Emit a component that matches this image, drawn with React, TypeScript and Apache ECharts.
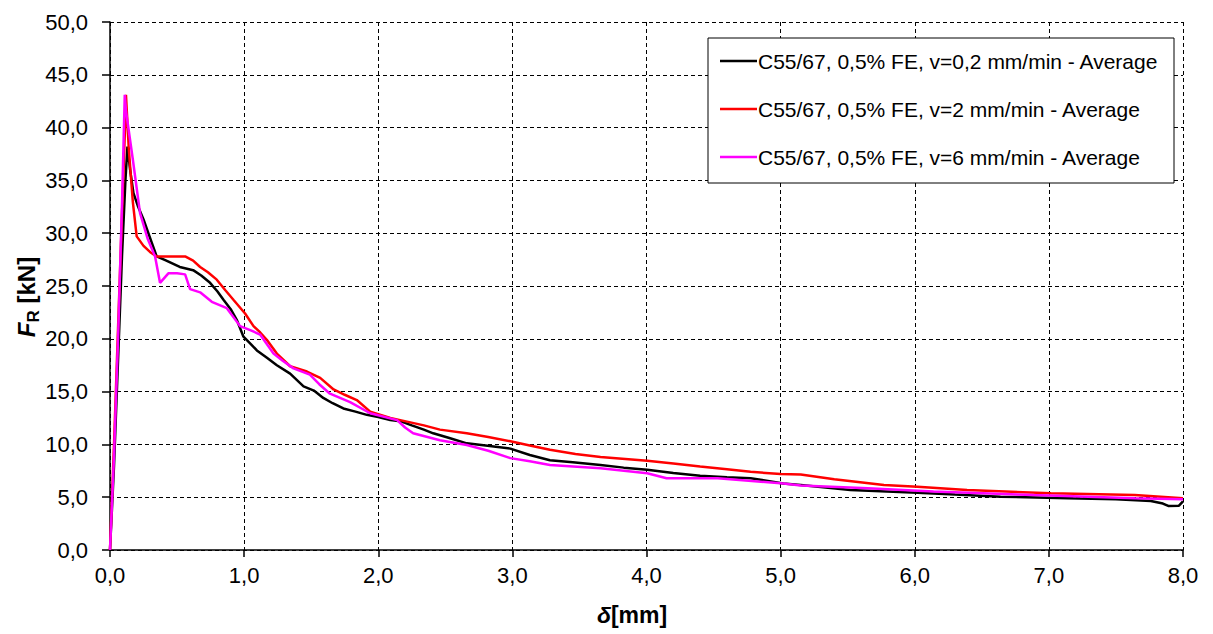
import React, { useEffect, useRef } from "react";
import * as echarts from "echarts";

const seriesNames = [
  "C55/67, 0,5% FE, v=0,2 mm/min - Average",
  "C55/67, 0,5% FE, v=2 mm/min - Average",
  "C55/67, 0,5% FE, v=6 mm/min - Average",
];

const blackData: number[][] = [
  [0, 0], [0.03, 8], [0.06, 18], [0.09, 28], [0.115, 35], [0.13, 38.2], [0.15, 36.0], [0.175, 33.8],
  [0.21, 32.5], [0.25, 31.3], [0.3, 29.5], [0.348, 27.8], [0.42, 27.4], [0.52, 26.8], [0.62, 26.5],
  [0.68, 26.0], [0.746, 25.3], [0.8, 24.5], [0.846, 23.7], [0.9, 22.8], [0.945, 21.8], [0.995, 20.2],
  [1.05, 19.5], [1.095, 18.9], [1.17, 18.2], [1.244, 17.5], [1.343, 16.7], [1.443, 15.5], [1.52, 15.1],
  [1.59, 14.4], [1.66, 13.9], [1.74, 13.4], [1.83, 13.1], [1.915, 12.8], [2.0, 12.6], [2.09, 12.3],
  [2.164, 12.2], [2.25, 11.8], [2.34, 11.4], [2.41, 11.05], [2.53, 10.6], [2.66, 10.1], [2.8, 9.9],
  [2.985, 9.6], [3.13, 9.0], [3.28, 8.5], [3.45, 8.3], [3.657, 8.05], [3.83, 7.8], [4.005, 7.6],
  [4.2, 7.3], [4.4, 7.04], [4.6, 6.9], [4.776, 6.8], [5.02, 6.3], [5.15, 6.16], [5.52, 5.68],
  [6.02, 5.43], [6.3, 5.25], [6.64, 5.05], [7.14, 4.9], [7.5, 4.8], [7.76, 4.64], [7.85, 4.4],
  [7.89, 4.17], [7.97, 4.2], [8.0, 4.6],
];

const redData: number[][] = [
  [0, 0], [0.03, 10], [0.06, 21], [0.09, 32], [0.112, 40], [0.119, 43.1], [0.14, 38], [0.17, 33],
  [0.199, 29.7], [0.25, 28.8], [0.3, 28.2], [0.348, 27.8], [0.45, 27.8], [0.56, 27.8], [0.62, 27.4],
  [0.672, 26.8], [0.73, 26.3], [0.796, 25.6], [0.86, 24.6], [0.92, 23.7], [1.007, 22.4], [1.07, 21.2],
  [1.12, 20.6], [1.169, 19.9], [1.244, 18.6], [1.343, 17.4], [1.468, 16.9], [1.567, 16.3], [1.667, 15.2],
  [1.75, 14.7], [1.84, 14.2], [1.94, 13.1], [2.09, 12.5], [2.164, 12.3], [2.34, 11.8], [2.46, 11.4],
  [2.66, 11.05], [2.82, 10.7], [2.985, 10.3], [3.13, 9.9], [3.28, 9.5], [3.47, 9.1], [3.657, 8.8],
  [4.005, 8.46], [4.2, 8.2], [4.4, 7.9], [4.6, 7.65], [4.776, 7.4], [5.0, 7.2], [5.15, 7.15],
  [5.4, 6.7], [5.77, 6.16], [6.02, 6.0], [6.39, 5.68], [7.015, 5.37], [7.64, 5.2], [8.0, 4.9],
];

const magentaData: number[][] = [
  [0, 0], [0.03, 9], [0.06, 20], [0.09, 33], [0.11, 43.1], [0.12, 41.5], [0.17, 37], [0.224, 31.9],
  [0.28, 29.5], [0.336, 27.8], [0.373, 25.3], [0.435, 26.2], [0.5, 26.2], [0.56, 26.1], [0.597, 24.7],
  [0.672, 24.4], [0.759, 23.5], [0.871, 22.9], [0.97, 21.2], [1.05, 20.8], [1.119, 20.4], [1.219, 18.6],
  [1.29, 17.9], [1.368, 17.2], [1.49, 16.6], [1.56, 15.7], [1.64, 14.8], [1.79, 14.0], [1.94, 12.95],
  [2.14, 12.3], [2.2, 11.6], [2.26, 11.05], [2.46, 10.4], [2.66, 9.95], [2.82, 9.4], [2.985, 8.7],
  [3.13, 8.4], [3.28, 8.05], [3.657, 7.74], [4.005, 7.27], [4.15, 6.8], [4.53, 6.8], [5.02, 6.3],
  [5.15, 6.1], [5.65, 5.84], [6.14, 5.53], [6.89, 5.2], [7.64, 4.9], [8.0, 4.8],
];

const seriesData = [blackData, redData, magentaData];
const seriesColors = ["#000000", "#ff0000", "#ff00ff"];

const FONT = "'Liberation Sans', Arial, sans-serif";
const fmt = (v: number) => v.toFixed(1).replace(".", ",");

export default function App() {
  const ref = useRef<HTMLDivElement>(null);
  useEffect(() => {
    if (!ref.current) return;
    const chart = echarts.init(ref.current, undefined, { renderer: "svg" });
    const gridStyle = { show: true, lineStyle: { color: "#000", type: [4, 3] as any, width: 1 } };
    chart.setOption({
      animation: false,
      backgroundColor: "#fff",
      textStyle: { fontFamily: FONT },
      grid: { left: 110, right: 30, top: 22, bottom: 84, containLabel: false },
      xAxis: {
        type: "value",
        min: 0,
        max: 8,
        interval: 1,
        axisLine: { show: true, onZero: false, lineStyle: { color: "#000", width: 1.5 } },
        axisTick: { show: true, length: 7, lineStyle: { color: "#000", width: 1.5 } },
        axisLabel: { color: "#000", fontSize: 22, fontFamily: FONT, margin: 14, formatter: fmt },
        splitLine: gridStyle,
      },
      yAxis: {
        type: "value",
        min: 0,
        max: 50,
        interval: 5,
        axisLine: { show: true, onZero: false, lineStyle: { color: "#000", width: 1.5 } },
        axisTick: { show: true, length: 8, lineStyle: { color: "#000", width: 1.5 } },
        axisLabel: { color: "#000", fontSize: 22, fontFamily: FONT, margin: 22, formatter: fmt },
        splitLine: gridStyle,
      },
      legend: {
        orient: "vertical",
        left: 720,
        top: 50,
        padding: 0,
        itemGap: 26,
        icon: "rect",
        itemWidth: 37,
        itemHeight: 2.5,
        textStyle: { color: "#000", fontSize: 21, fontFamily: FONT, lineHeight: 22, padding: [0, 0, 0, -4] },
        data: seriesNames,
        z: 10,
      },
      graphic: [
        {
          type: "rect",
          z: 5,
          shape: { x: 708, y: 38, width: 466, height: 145 },
          style: { fill: "#fff", stroke: "#000", lineWidth: 1 },
        },
        {
          type: "text",
          x: 632,
          y: 615,
          style: {
            text: "{d|δ}{u|[mm]}",
            align: "center",
            verticalAlign: "middle",
            rich: {
              d: { fontSize: 23, fontWeight: "bold", fontStyle: "italic", fontFamily: FONT, fill: "#000" },
              u: { fontSize: 23, fontWeight: "bold", fontFamily: FONT, fill: "#000" },
            },
          },
        },
        {
          type: "text",
          x: 28,
          y: 297,
          rotation: Math.PI / 2,
          style: {
            text: "{f|F}{r|R}{u| [kN]}",
            align: "center",
            verticalAlign: "middle",
            rich: {
              f: { fontSize: 24, fontWeight: "bold", fontStyle: "italic", fontFamily: FONT, fill: "#000", verticalAlign: "top" },
              r: { fontSize: 17, fontWeight: "bold", fontFamily: FONT, fill: "#000", padding: [11, 0, 0, 0] },
              u: { fontSize: 24, fontWeight: "bold", fontFamily: FONT, fill: "#000", verticalAlign: "top" },
            },
          },
        },
      ],
      series: seriesData.map((d, i) => ({
        name: seriesNames[i],
        type: "line",
        data: d,
        showSymbol: false,
        symbol: "none",
        lineStyle: { color: seriesColors[i], width: 2.5 },
        itemStyle: { color: seriesColors[i] },
      })),
    });
    return () => chart.dispose();
  }, []);
  return <div ref={ref} style={{ width: 1213, height: 634, position: "absolute", left: 0, top: 0 }} />;
}
